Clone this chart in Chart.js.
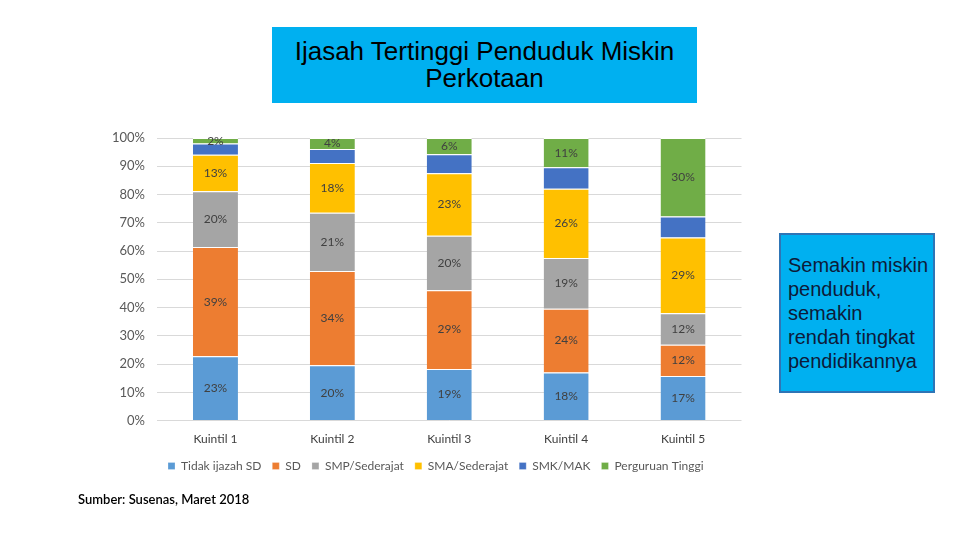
<!DOCTYPE html>
<html>
<head>
<meta charset="utf-8">
<script src="https://cdn.jsdelivr.net/npm/chart.js@4.4.1/dist/chart.umd.min.js"></script>
<style>
  html, body { margin: 0; padding: 0; background: #fff; }
  #stage { position: relative; width: 960px; height: 540px; overflow: hidden; }
  #chartWrap { position: absolute; left: 0; top: 0; width: 960px; height: 540px; }
  #title {
    position: absolute; left: 272px; top: 27px; width: 425px; height: 76px;
    background: #00B0F0; color: #000;
    font-family: "Liberation Sans", Arial, sans-serif; font-size: 26px; line-height: 27px;
    display: flex; align-items: center; justify-content: center; text-align: center;
  }
  #note {
    position: absolute; left: 779px; top: 233px; width: 145px; height: 156px;
    background: #00B0F0; border: 2px solid #2E75B6; color: #0d1b3a;
    font-family: "Liberation Sans", Arial, sans-serif; font-size: 20px; line-height: 24px;
    display: flex; align-items: center; padding-left: 7px; box-sizing: content-box;
    white-space: nowrap;
  }
  #source {
    position: absolute; left: 78px; top: 491px;
    font-family: Lato, "Open Sans", sans-serif; font-size: 13px; font-weight: 600; color: #000;
  }
</style>
</head>
<body>
<div id="stage">
  <div id="chartWrap"><canvas id="chart"></canvas></div>
  <div id="title">Ijasah Tertinggi Penduduk Miskin<br>Perkotaan</div>
  <div id="note">Semakin miskin<br>penduduk,<br>semakin<br>rendah tingkat<br>pendidikannya</div>
  <div id="source">Sumber: Susenas, Maret 2018</div>
</div>
<script>
// categories and series (percent shares)
const categories = ['Kuintil 1', 'Kuintil 2', 'Kuintil 3', 'Kuintil 4', 'Kuintil 5'];
const seriesNames = ['Tidak ijazah SD', 'SD', 'SMP/Sederajat', 'SMA/Sederajat', 'SMK/MAK', 'Perguruan Tinggi'];
const tidakIjazahSD = [23, 20, 19, 18, 17];
const sd = [39, 34, 29, 24, 12];
const smp = [20, 21, 20, 19, 12];
const sma = [13, 18, 23, 26, 29];
const smk = [4, 5, 7, 8, 8]; // no labels shown in the original
const pt = [2, 4, 6, 11, 30];
const yTicks = [0, 10, 20, 30, 40, 50, 60, 70, 80, 90, 100];

const seriesColors = ['#5B9BD5', '#ED7D31', '#A5A5A5', '#FFC000', '#4472C4', '#70AD47'];
const showLabel = [true, true, true, true, false, true];

const rawSeries = [tidakIjazahSD, sd, smp, sma, smk, pt];

// 100% stacked: share of each column total
const totals = categories.map((c, j) => rawSeries.reduce((s, arr) => s + arr[j], 0));

const datasets = rawSeries.map((arr, i) => ({
    label: seriesNames[i],
    data: arr.map((v, j) => v / totals[j] * 100),
    raw: arr,
    backgroundColor: seriesColors[i],
    borderColor: '#ffffff',
    borderWidth: { top: 1, bottom: 0, left: 0, right: 0 },
    borderSkipped: false,
    barPercentage: 0.385,
    categoryPercentage: 1
}));

// draw the values inside the segments
const segmentLabels = {
    id: 'segmentLabels',
    afterDatasetsDraw(chart) {
        const ctx = chart.ctx;
        ctx.save();
        ctx.font = '12px Lato, "Open Sans", sans-serif';
        ctx.fillStyle = '#404040';
        ctx.textAlign = 'center';
        ctx.textBaseline = 'middle';
        chart.data.datasets.forEach((ds, i) => {
            if (!showLabel[i]) return;
            chart.getDatasetMeta(i).data.forEach((bar, j) => {
                const yMid = (bar.y + bar.base) / 2;
                ctx.fillText(ds.raw[j] + '%', bar.x, yMid);
            });
        });
        ctx.restore();
    }
};

const ctx = document.getElementById('chart').getContext('2d');
new Chart(ctx, {
    type: 'bar',
    data: { labels: categories, datasets: datasets },
    options: {
        responsive: true,
        maintainAspectRatio: false,
        animation: false,
        layout: { padding: { left: 0, right: 218.5, top: 138, bottom: 58 } },
        plugins: {
            legend: {
                position: 'bottom',
                align: 'start',
                fullSize: false,
                labels: {
                    boxWidth: 7,
                    boxHeight: 7,
                    padding: 11,
                    color: '#595959',
                    font: { family: 'Lato, "Open Sans", sans-serif', size: 12 }
                }
            },
            tooltip: { enabled: false }
        },
        scales: {
            x: {
                stacked: true,
                grid: { display: false },
                border: { display: false },
                ticks: {
                    color: '#404040',
                    padding: 3,
                    font: { family: 'Lato, "Open Sans", sans-serif', size: 12 }
                }
            },
            y: {
                stacked: true,
                min: 0,
                max: 100,
                afterFit(scale) { scale.width = 157; },
                afterBuildTicks(scale) { scale.ticks = yTicks.map(v => ({ value: v })); },
                grid: { color: '#D9D9D9', drawTicks: false },
                border: { display: false },
                ticks: {
                    color: '#595959',
                    padding: 12,
                    font: { family: 'Lato, "Open Sans", sans-serif', size: 13 },
                    callback: v => v + '%'
                }
            }
        }
    },
    plugins: [segmentLabels]
});
</script>
</body>
</html>
